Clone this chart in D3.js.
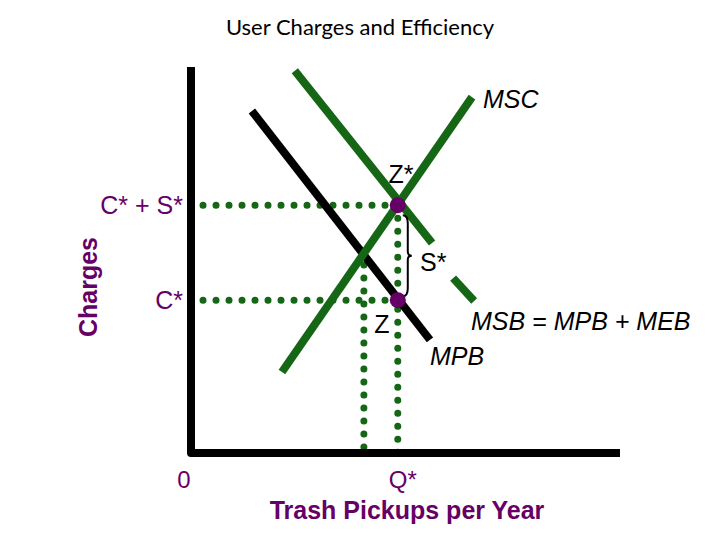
<!DOCTYPE html>
<html>
<head>
<meta charset="utf-8">
<script src="https://cdn.jsdelivr.net/npm/d3@7"></script>
<style>
  body { margin: 0; background: #fff; }
  text { font-family: "Liberation Sans", Arial, sans-serif; }
</style>
</head>
<body>
<div id="chart"></div>
<script>
// chart values, in axis units (0..100 on each axis)
const axisX = [0, 100];
const axisY = [0, 100];
const mscLine = [[21.2, 21.0], [65.5, 92.2]];
const msbLine = [[24.2, 99.0], [56.2, 54.4]];
const msbTail = [[61.1, 45.3], [66.0, 39.4]];
const mpbLine = [[14.2, 88.6], [55.7, 29.3]];
const qStar = 48.2;
const qPrivate = 40.3;
const cPlusS = 64.2;
const cStar = 39.6;
const crossY = 48.7;
const dotStart = 2.8;
const pointNames = ["Z*", "Z"];

const width = 720, height = 540;
const purple = "#660066", green = "#156615";

const svg = d3.select("#chart").append("svg")
    .attr("width", width)
    .attr("height", height);

const x = d3.scaleLinear().domain(axisX).range([191, 620]);
const y = d3.scaleLinear().domain(axisY).range([453, 67]);
const line = d3.line().x(d => x(d[0])).y(d => y(d[1]));

// title
svg.append("text")
    .attr("x", 360).attr("y", 35)
    .attr("text-anchor", "middle")
    .style("font-family", "Lato, sans-serif")
    .style("font-size", "22px")
    .text("User Charges and Efficiency");

// dotted guides
const dotted = [
  [[dotStart, cPlusS], [qStar, cPlusS]],
  [[dotStart, cStar], [qStar, cStar]],
  [[qStar, cPlusS], [qStar, 0]],
  [[qPrivate, crossY], [qPrivate, 0]]
];
svg.selectAll(".dots").data(dotted).enter().append("path")
    .attr("d", line)
    .attr("stroke", green)
    .attr("stroke-width", 7)
    .attr("stroke-linecap", "round")
    .attr("stroke-dasharray", "0 13")
    .attr("fill", "none");

// curves
svg.append("path").attr("d", line(mpbLine))
    .attr("stroke", "#000").attr("stroke-width", 8).attr("fill", "none");
[mscLine, msbLine, msbTail].forEach(seg => {
  svg.append("path").attr("d", line(seg))
      .attr("stroke", green).attr("stroke-width", 8).attr("fill", "none");
});

// axes
svg.append("path")
    .attr("d", line([[axisX[0], axisY[1]], [axisX[0], axisY[0]], [axisX[1], axisY[0]]]))
    .attr("stroke", "#000").attr("stroke-width", 8).attr("fill", "none")
    .attr("stroke-linejoin", "round");

// brace for S*
const bx = x(qStar) + 8, bTop = y(cPlusS) + 10, bBot = y(cStar) - 4;
const bMid = (bTop + bBot) / 2;
const p = d3.path();
p.moveTo(bx - 3, bTop);
p.quadraticCurveTo(bx + 2, bTop, bx + 2, bTop + 8);
p.lineTo(bx + 2, bMid - 4);
p.quadraticCurveTo(bx + 2, bMid, bx + 6, bMid);
p.quadraticCurveTo(bx + 2, bMid, bx + 2, bMid + 4);
p.lineTo(bx + 2, bBot - 8);
p.quadraticCurveTo(bx + 2, bBot, bx - 3, bBot);
svg.append("path").attr("d", p.toString())
    .attr("stroke", "#000").attr("stroke-width", 2).attr("fill", "none");

// equilibrium points
svg.selectAll(".pt").data([cPlusS, cStar]).enter().append("circle")
    .attr("cx", x(qStar))
    .attr("cy", d => y(d))
    .attr("r", 8)
    .attr("fill", purple);

// black labels
const blackLabels = [
  { t: pointNames[0], px: 401, py: 183, anchor: "middle", italic: false },
  { t: pointNames[1], px: 382, py: 333, anchor: "middle", italic: false },
  { t: "S*", px: 420, py: 271, anchor: "start", italic: false },
  { t: "MSC", px: 483, py: 108, anchor: "start", italic: true },
  { t: "MSB = MPB + MEB", px: 471, py: 330, anchor: "start", italic: true },
  { t: "MPB", px: 430, py: 365, anchor: "start", italic: true }
];
svg.selectAll(".bl").data(blackLabels).enter().append("text")
    .attr("x", d => d.px).attr("y", d => d.py)
    .attr("text-anchor", d => d.anchor)
    .style("font-size", "25px")
    .style("font-style", d => d.italic ? "italic" : "normal")
    .text(d => d.t);

// purple tick labels
const yTicks = [{ v: cPlusS, t: "C* + S*" }, { v: cStar, t: "C*" }];
svg.selectAll(".yt").data(yTicks).enter().append("text")
    .attr("x", 183).attr("y", d => y(d.v) + 9)
    .attr("text-anchor", "end")
    .attr("fill", purple)
    .style("font-size", "25px")
    .text(d => d.t);

const xTicks = [{ v: 0, t: "0", dx: -7 }, { v: qStar, t: "Q*", dx: 5 }];
svg.selectAll(".xt").data(xTicks).enter().append("text")
    .attr("x", d => x(d.v) + d.dx).attr("y", 488)
    .attr("text-anchor", "middle")
    .attr("fill", purple)
    .style("font-size", "24px")
    .text(d => d.t);

// axis titles
svg.append("text")
    .attr("transform", "translate(97,287) rotate(-90)")
    .attr("text-anchor", "middle")
    .attr("fill", purple)
    .style("font-size", "25px")
    .style("font-weight", "bold")
    .text("Charges");

svg.append("text")
    .attr("x", 407).attr("y", 519)
    .attr("text-anchor", "middle")
    .attr("fill", purple)
    .style("font-size", "25px")
    .style("font-weight", "bold")
    .text("Trash Pickups per Year");
</script>
</body>
</html>
